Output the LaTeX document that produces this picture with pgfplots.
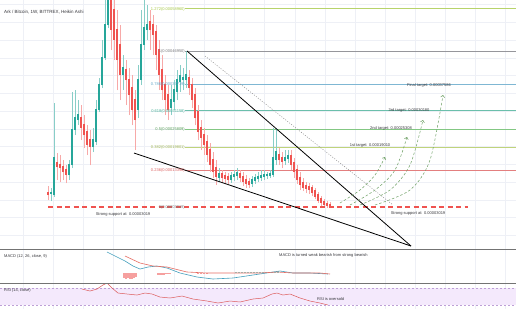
\documentclass[border=0pt]{standalone}
\usepackage{pgfplots}
\usepackage{pgfplotstable}
\pgfplotsset{compat=1.18}
\usepackage{fontspec}
\setmainfont{Liberation Sans}
\usetikzlibrary{arrows.meta}

\definecolor{upc}{RGB}{38,166,154}
\definecolor{dnc}{RGB}{239,83,80}
\definecolor{f1272}{RGB}{165,200,70}
\definecolor{f1}{RGB}{150,150,155}
\definecolor{f786}{RGB}{95,165,200}
\definecolor{f618}{RGB}{70,175,150}
\definecolor{f5}{RGB}{100,185,100}
\definecolor{f382}{RGB}{175,200,90}
\definecolor{f236}{RGB}{220,95,95}
\definecolor{arc}{RGB}{110,160,100}
\definecolor{txt}{RGB}{55,55,60}
\definecolor{gridc}{RGB}{238,240,246}
\definecolor{macdc}{RGB}{70,160,190}
\definecolor{sigc}{RGB}{230,110,100}
\definecolor{rsic}{RGB}{220,90,90}
\definecolor{band}{RGB}{244,233,252}
\definecolor{bandl}{RGB}{190,160,215}

% candles: x (pixel column), open, close, high, low  (price in 1e-8 BTC)
\pgfplotstableread{
x o c h l
51 6680 6961 8369 4708
54 6398 16817 32305 5835
69 12030 14846 16254 10622
72 14846 24702 35403 14001
75 24702 28081 35966 23294
78 27518 28926 33150 26110
93 19915 21886 25265 18507
96 21323 30334 33150 20478
99 30334 37374 39345 29771
102 37374 44977 50046 36529
105 44977 54270 64126 44414
108 54270 64126 69758 53425
123 40190 42161 45822 35966
138 30334 38782 43006 28081
141 38782 48638 58494 37374
144 48638 53425 62718 47230
147 52862 54270 59902 50046
171 30897 33150 37374 28926
174 32587 35966 38782 30334
177 35403 38782 41598 33150
180 38219 39908 43006 35403
183 38782 39345 42161 35966
186 38782 40190 46948 36529
219 11185 12312 14001 10059
231 10622 11748 12875 9777
234 11467 12030 13438 10340
237 11748 12593 14001 10622
252 9496 10622 11748 8651
255 10340 11185 12312 9496
258 10904 11467 12875 10059
261 11185 11748 13438 10340
264 11467 12030 13438 10622
267 11748 12030 12875 10904
270 11748 12312 13438 11185
273 12030 16817 25265 11467
276 16254 18507 25265 14846
285 15972 16817 19070 14846
288 16536 17380 19070 15409
}\upT

\pgfplotstableread{
x o c h l
48 6961 6398 8932 4990
57 15409 14283 18225 10622
60 14846 14001 17662 10059
63 14283 12875 16254 10622
66 13438 12030 14846 9777
81 28081 25265 31742 21886
84 26110 23294 28926 19633
87 24139 20478 26110 17662
90 21886 19915 24702 14846
111 62718 52862 69758 47230
114 58494 50046 64126 44414
117 52862 44414 58494 35966
120 48638 40190 54270 33150
126 41598 38782 44414 31742
129 38782 34558 42161 28926
132 36529 30334 40190 26110
135 33150 27518 35966 19070
150 55115 52862 58494 47230
153 54270 51454 57086 45822
156 52299 45822 54270 41598
159 47230 40190 50046 35966
162 41598 35966 45822 33150
165 37374 33150 40190 28926
168 34558 30334 37374 27518
189 39345 36529 41598 34558
192 37374 33150 39345 30897
195 34558 28081 36529 26110
198 29771 24139 31742 21886
201 25265 22449 27518 19070
204 23294 20478 25265 17662
207 21323 17662 23294 15691
210 19070 14846 21041 12875
213 16254 12875 18507 11185
216 14001 11467 16254 9214
222 12312 11185 13438 9777
225 11748 10904 12875 9496
228 11467 10622 12593 9496
240 12312 11185 13438 10059
243 11467 10059 12875 8932
246 10622 9496 12030 8369
249 10059 9214 11185 8369
279 17662 16254 19633 14846
282 16817 15691 18507 14001
291 17380 14846 19070 13438
294 15409 12875 16817 11185
297 13438 10622 14846 9496
300 11185 9214 12875 7806
303 9777 8369 11185 7524
306 8932 8088 10059 6961
309 8651 7806 9777 6680
312 8369 6961 9214 6116
315 7524 5835 8369 5272
318 6398 4708 7243 4145
321 5272 4145 6116 3300
324 4427 3582 5272 3019
327 3864 3300 4708 2737
330 3582 3019 4427 2737
}\dnT

\pgfplotsset{
  panel/.style={
    scale only axis, width=516pt, xmin=0, xmax=516,
    axis line style={draw=none},
    major tick length=0pt,
    xticklabels={}, yticklabels={},
    xtick={23,53,83,113,144,174,204,234,264,295,325,355,385,415,445,475,505},
    xmajorgrids,
    major grid style={draw=gridc, line width=0.5pt},
  },
}

\newcommand{\sm}{\fontsize{4}{4.8}\selectfont}

\begin{document}
\begin{tikzpicture}[x=1pt,y=1pt]
\useasboundingbox (0pt,-309pt) rectangle (516pt,0pt);
\clip (0pt,-309pt) rectangle (516pt,0pt);
\fill[white] (0pt,-309pt) rectangle (516pt,0pt);

% ---------------- main panel ----------------
\begin{axis}[panel, at={(0pt,0pt)}, anchor=north west, height=249pt,
  ymin=-8808, ymax=61310,
  ytick={-5000,0,5000,10000,15000,20000,25000,30000,35000,40000,45000,50000,55000,60000},
  ymajorgrids]

% fib levels
\addplot[f1272!80, line width=0.6pt] coordinates {(185,58899) (516,58899)};
\addplot[f1, line width=0.6pt] coordinates {(185,46950) (516,46950)};
\addplot[f786!80, line width=0.6pt] coordinates {(185,37549) (516,37549)};
\addplot[f618!80, line width=0.6pt] coordinates {(185,30168) (516,30168)};
\addplot[f5!80, line width=0.6pt] coordinates {(185,24985) (516,24985)};
\addplot[f382!80, line width=0.6pt] coordinates {(185,19801) (516,19801)};
\addplot[f236!80, line width=0.6pt] coordinates {(185,13387) (516,13387)};

% wicks
\addplot[draw=none, mark=none, error bars/.cd, y dir=plus, y explicit, error mark=none,
  error bar style={draw=upc!55, line width=0.6pt}]
  table[x=x, y=l, y error plus expr=\thisrow{h}-\thisrow{l}] {\upT};
\addplot[draw=none, mark=none, error bars/.cd, y dir=plus, y explicit, error mark=none,
  error bar style={draw=dnc!50, line width=0.6pt}]
  table[x=x, y=l, y error plus expr=\thisrow{h}-\thisrow{l}] {\dnT};
% bodies
\addplot[draw=none, mark=none, error bars/.cd, y dir=plus, y explicit, error mark=none,
  error bar style={draw=upc, line width=2.2pt}]
  table[x=x, y=o, y error plus expr=\thisrow{c}-\thisrow{o}+250] {\upT};
\addplot[draw=none, mark=none, error bars/.cd, y dir=plus, y explicit, error mark=none,
  error bar style={draw=dnc, line width=2.2pt}]
  table[x=x, y=c, y error plus expr=\thisrow{o}-\thisrow{c}+250] {\dnT};

% support line
\addplot[dnc, line width=1.4pt, dash pattern=on 5pt off 3.5pt] coordinates {(48,3019) (468,3019)};

% falling wedge
\addplot[black, line width=0.8pt] coordinates {(187,46948) (411,-7964)};
\addplot[black, line width=0.8pt] coordinates {(134,18225) (411,-7964)};
\addplot[black!45, line width=0.5pt, dash pattern=on 1pt off 1.5pt] coordinates {(205,45540) (393,3582)};

% target paths
\addplot[arc, line width=0.5pt, dash pattern=on 2.5pt off 2pt, smooth, -{Straight Barb[length=2pt,width=4pt]}]
  coordinates {(340,4145) (360,7806) (375,12030) (385,17099)};
\addplot[arc, line width=0.5pt, dash pattern=on 2.5pt off 2pt, smooth, -{Straight Barb[length=2pt,width=4pt]}]
  coordinates {(350,3582) (375,7806) (395,13438) (407,22731)};
\addplot[arc, line width=0.5pt, dash pattern=on 2.5pt off 2pt, smooth, -{Straight Barb[length=2pt,width=4pt]}]
  coordinates {(360,3582) (390,7806) (410,14846) (423,27518)};
\addplot[arc, line width=0.5pt, dash pattern=on 2.5pt off 2pt, smooth, -{Straight Barb[length=2pt,width=4pt]}]
  coordinates {(375,3582) (410,7806) (430,16254) (443,34558)};
\end{axis}

% ---------------- MACD panel ----------------
\begin{axis}[panel, at={(0pt,-249pt)}, anchor=north west, height=34pt, ymin=-10, ymax=24]
\addplot[ycomb, dnc!55, line width=1.6pt, mark=none] coordinates {
(124,-5) (126,-6) (128,-5) (130,-6) (132,-6) (134,-5) (136,-4)
(158,-1.5) (160,-2) (162,-1.5) (164,-1.5) (166,-1) (168,-1) (170,-1)
(198,-1) (201,-1) (204,-1) (207,-1) };
\addplot[ycomb, upc!55, line width=1.6pt, mark=none] coordinates {
(236,1) (239,1) (242,1) (245,1) (248,1) (251,1) (254,1) (257,1) (260,1) (263,1.5) (266,1.5) (269,1.5) (272,1.5) (275,1.5) (278,2) };
\addplot[macdc, line width=0.6pt, mark=none] coordinates {
(107,21) (115,17) (125,12) (133,7) (140,4) (148,6) (157,7) (167,5) (180,0) (197,-4) (213,-6) (233,-5) (253,-2) (273,1) (280,2) (293,0) (310,0) (328,-1) };
\addplot[sigc, line width=0.6pt, mark=none] coordinates {
(125,17) (140,10) (153,7) (167,6) (187,1) (207,0) (233,0) (260,0) (277,1) (293,0) (320,0) (330,-1) };
\end{axis}

% ---------------- RSI panel ----------------
\begin{axis}[panel, at={(0pt,-283pt)}, anchor=north west, height=26pt, ymin=20.6, ymax=81.8]
\addplot[fill=band, draw=none] coordinates {(0,30) (0,70) (516,70) (516,30)} -- cycle;
\addplot[bandl, line width=0.5pt, dash pattern=on 2pt off 2pt] coordinates {(0,70) (516,70)};
\addplot[bandl, line width=0.5pt, dash pattern=on 2pt off 2pt] coordinates {(0,30) (516,30)};
\addplot[rsic, line width=0.5pt, mark=none] coordinates {
(82,67.6) (90,62.9) (97,67.6) (103,77.1) (107,81.8) (112,70) (118,58.2) (127,55.9) (137,53.5) (145,58.2) (152,55.9) (160,48.8) (170,46.5) (182,51.2) (193,44.1) (207,39.4) (218,34.7) (230,39.4) (240,37.1) (253,44.1) (263,46.5) (272,55.9) (277,58.2) (283,53.5) (290,55.9) (300,46.5) (310,39.4) (320,34.7) (328,30) };
\end{axis}

% separators
\draw[black!55, line width=0.9pt] (0pt,-249pt) -- (516pt,-249pt);
\draw[black!55, line width=0.9pt] (0pt,-283pt) -- (516pt,-283pt);

% ---------------- text ----------------
\node[anchor=west, inner sep=0pt, text=txt, font=\fontsize{4.5}{5.4}\selectfont] at (4pt,-12pt) {Ark / Bitcoin, 1W, BITTREX, Heikin Ashi};

\begin{scope}[every node/.style={anchor=east, inner sep=0pt, font=\sm}]
\node[text=f1272] at (185pt,-9pt) {1.272(0.00058960)};
\node[text=f1!80!black] at (185pt,-51pt) {1(0.00046950)};
\node[text=f786] at (185pt,-84pt) {0.786(0.00037719)};
\node[text=f618] at (185pt,-111pt) {0.618(0.00031158)};
\node[text=f5!85!black] at (185pt,-129pt) {0.5(0.00025809)};
\node[text=f382!90!black] at (185pt,-147pt) {0.382(0.00019801)};
\node[text=f236] at (185pt,-170pt) {0.236(0.00013390)};
\node[text=f1!80!black] at (185pt,-207pt) {0(0.00003019)};
\end{scope}

\begin{scope}[every node/.style={inner sep=0pt, text=txt, font=\sm}]
\node at (370pt,-146pt) {1st target: 0.00019010};
\node at (391pt,-128pt) {2nd target: 0.00025308};
\node at (409pt,-110pt) {3rd target: 0.00030180};
\node at (429pt,-85pt) {Final target: 0.00037586};
\node at (123pt,-215pt) {Strong support at: 0.00003019};
\node at (418pt,-214pt) {Strong support at: 0.00003019};
\node[anchor=west] at (4pt,-256pt) {MACD (12, 26, close, 9)};
\node[anchor=west] at (279pt,-255pt) {MACD is turned weak bearish from strong bearish};
\node[anchor=west] at (4pt,-290pt) {RSI (14, close)};
\node[anchor=west] at (317pt,-299pt) {RSI is oversold};
\end{scope}
\end{tikzpicture}
\end{document}
